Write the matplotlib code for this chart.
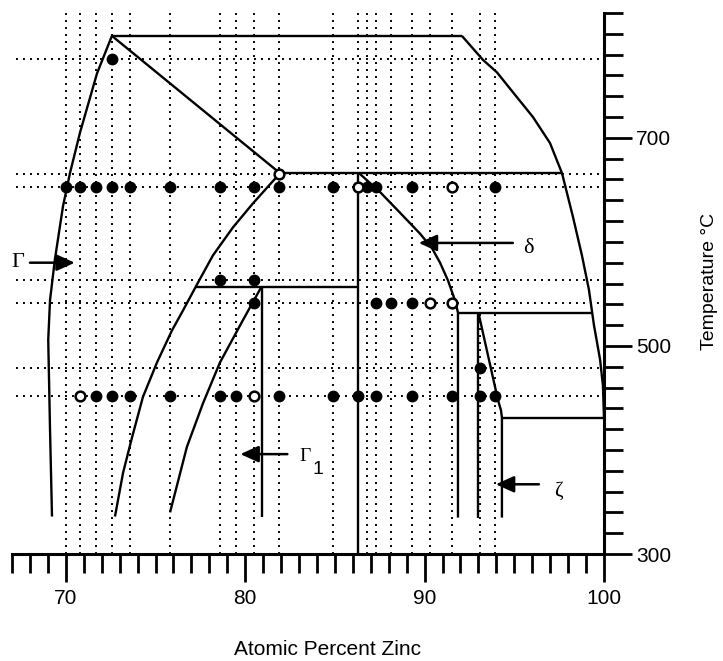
import matplotlib
matplotlib.use('Agg')
import matplotlib.pyplot as plt
from matplotlib.ticker import MultipleLocator, FixedLocator

# compositions (at.% Zn) and temperatures (C) of the sample grid
comp_lines = [70.0, 70.8, 71.7, 72.6, 73.6, 75.8, 78.6, 79.5, 80.5, 81.9,
              84.9, 86.3, 86.8, 87.3, 88.1, 89.3, 90.3, 91.5, 93.1, 93.9]
temp_lines = [776, 665, 653, 563, 541, 479, 452]

# sample points, per temperature: filled / open markers
filled_776 = [72.6]
open_665 = [81.9]
filled_653 = [70.0, 70.8, 71.7, 72.6, 73.6, 75.8, 78.6, 80.5, 81.9, 84.9,
              86.8, 87.3, 89.3, 93.9]
open_653 = [86.3, 91.5]
filled_563 = [78.6, 80.5]
filled_541 = [80.5, 87.3, 88.1, 89.3]
open_541 = [90.3, 91.5]
filled_479 = [93.1]
filled_452 = [71.7, 72.6, 73.6, 75.8, 78.6, 79.5, 81.9, 84.9, 86.3, 87.3,
              89.3, 91.5, 93.1, 93.9]
open_452 = [70.8, 80.5]

# phase boundaries
gamma_left_x = [72.57, 71.74, 70.79, 70.23, 69.84, 69.39, 69.12, 69.02,
                69.12, 69.23]
gamma_left_t = [798, 762, 705, 666, 634, 583, 544, 506, 419, 336]
gamma_top_x = [72.57, 81.94]
gamma_top_t = [798, 666]
gamma_right_x = [81.94, 80.43, 79.32, 78.20, 77.34, 76.53, 75.92, 75.08,
                 74.30, 73.69, 73.19, 72.74]
gamma_right_t = [666, 637, 614, 587, 560, 534, 515, 484, 451, 412, 378, 336]
g1_left_x = [80.91, 79.88, 78.59, 77.65, 76.75, 75.81]
g1_left_t = [557, 525, 484, 445, 403, 340]
g1_right_x = [80.91, 80.91]
g1_right_t = [557, 336]
g1_peri_x = [77.19, 86.3]
g1_peri_t = [557, 557]
delta_left_x = [86.3, 86.3]
delta_left_t = [666, 300]
delta_right_x = [86.35, 87.51, 88.63, 89.74, 90.41, 90.86, 91.30, 91.69,
                 91.86, 91.86]
delta_right_t = [666, 648, 628, 608, 594, 580, 563, 544, 532, 335]
delta_peri_x = [81.94, 97.66]
delta_peri_t = [666, 666]
top_x = [72.57, 92.08]
top_t = [798, 798]
liquidus_x = [92.08, 93.25, 94.03, 95.15, 96.04, 96.99, 97.66, 98.27,
              98.77, 99.16, 99.44, 99.78, 99.94, 100.0]
liquidus_t = [798, 775, 763, 739, 720, 695, 666, 624, 587, 554, 520, 487,
              462, 431]
zeta_peri_x = [91.86, 99.35]
zeta_peri_t = [532, 532]
zeta_left_x = [93.0, 93.0]
zeta_left_t = [532, 335]
zeta_right_x = [93.0, 94.09, 94.26, 94.31, 94.31]
zeta_right_t = [532, 448, 438, 431, 335]
eutectic_x = [94.31, 100.0]
eutectic_t = [431, 431]

boundaries = [
    (gamma_left_x, gamma_left_t), (gamma_top_x, gamma_top_t),
    (gamma_right_x, gamma_right_t), (g1_left_x, g1_left_t),
    (g1_right_x, g1_right_t), (g1_peri_x, g1_peri_t),
    (delta_left_x, delta_left_t), (delta_right_x, delta_right_t),
    (delta_peri_x, delta_peri_t), (top_x, top_t),
    (liquidus_x, liquidus_t), (zeta_peri_x, zeta_peri_t),
    (zeta_left_x, zeta_left_t), (zeta_right_x, zeta_right_t),
    (eutectic_x, eutectic_t),
]

filled_rows = [(776, filled_776), (653, filled_653), (563, filled_563),
               (541, filled_541), (479, filled_479), (452, filled_452)]
open_rows = [(665, open_665), (653, open_653), (541, open_541),
             (452, open_452)]

plt.rcParams['font.family'] = ['Liberation Sans', 'DejaVu Sans']

fig = plt.figure(figsize=(7.23, 6.61), dpi=100)
ax = fig.add_axes([12 / 723, 1 - 554 / 661, 592 / 723, 541 / 661])
ax.set_xlim(67, 100)
ax.set_ylim(300, 820)

dots = (0, (1, 2.6))
for x in comp_lines:
    ax.axvline(x, color='black', lw=1.4, ls=dots, zorder=1)
for t in temp_lines:
    ax.axhline(t, xmin=0.006, color='black', lw=1.4, ls=dots, zorder=1)

for bx, bt in boundaries:
    ax.plot(bx, bt, color='black', lw=1.7, solid_capstyle='butt',
            solid_joinstyle='round', zorder=3)

for t, xs in filled_rows:
    ax.plot(xs, [t] * len(xs), 'o', ms=7.5, mfc='black', mec='black',
            zorder=4, clip_on=False)
for t, xs in open_rows:
    ax.plot(xs, [t] * len(xs), 'o', ms=7, mfc='white', mec='black',
            mew=1.8, zorder=4, clip_on=False)

# phase labels with arrows
arrow = dict(arrowstyle='-|>,head_length=0.55,head_width=0.25',
             color='black', lw=1.8, shrinkA=0, shrinkB=0, mutation_scale=20)
serif = ['Liberation Serif', 'DejaVu Serif']
ax.annotate('', xy=(70.5, 580), xytext=(68.0, 580), arrowprops=arrow,
            annotation_clip=False)
ax.text(67.35, 580, '\u0393', family=serif, fontsize=16, ha='center',
        va='center', clip_on=False)
ax.annotate('', xy=(89.67, 599), xytext=(94.92, 599), arrowprops=arrow)
ax.text(95.8, 594, '\u03b4', family=serif, fontsize=16, ha='center',
        va='center')
ax.annotate('', xy=(79.73, 396), xytext=(82.35, 396), arrowprops=arrow)
ax.text(83.35, 394, '\u0393', family=serif, fontsize=14, ha='center',
        va='center')
ax.text(84.05, 381, '1', fontsize=14, ha='center', va='center')
ax.annotate('', xy=(93.97, 367), xytext=(96.37, 367), arrowprops=arrow)
ax.text(97.45, 360, '\u03b6', family=serif, fontsize=15, ha='center',
        va='center')

# axes frame: only bottom and right
ax.spines['left'].set_visible(False)
ax.spines['top'].set_visible(False)
ax.spines['right'].set_linewidth(2.2)
ax.spines['bottom'].set_linewidth(2.2)

ax.yaxis.tick_right()
ax.xaxis.set_major_locator(FixedLocator([70, 80, 90, 100]))
ax.xaxis.set_minor_locator(MultipleLocator(1))
ax.yaxis.set_major_locator(FixedLocator([300, 500, 700]))
ax.yaxis.set_minor_locator(MultipleLocator(20))
ax.tick_params(axis='x', which='major', direction='out', length=20,
               width=2, pad=5, labelsize=15)
ax.tick_params(axis='x', which='minor', direction='out', length=14,
               width=2)
ax.tick_params(axis='y', which='major', direction='out', length=20,
               width=2, pad=3, labelsize=15)
ax.tick_params(axis='y', which='minor', direction='out', length=14,
               width=2)

fig.text(327 / 723, 6 / 661, 'Atomic Percent Zinc', fontsize=15,
         ha='center', va='baseline')
fig.text(710 / 723, 1 - 281 / 661, 'Temperature \u00b0C', fontsize=14,
         rotation=90, ha='center', va='center')

fig.savefig('out.png', dpi=100)
